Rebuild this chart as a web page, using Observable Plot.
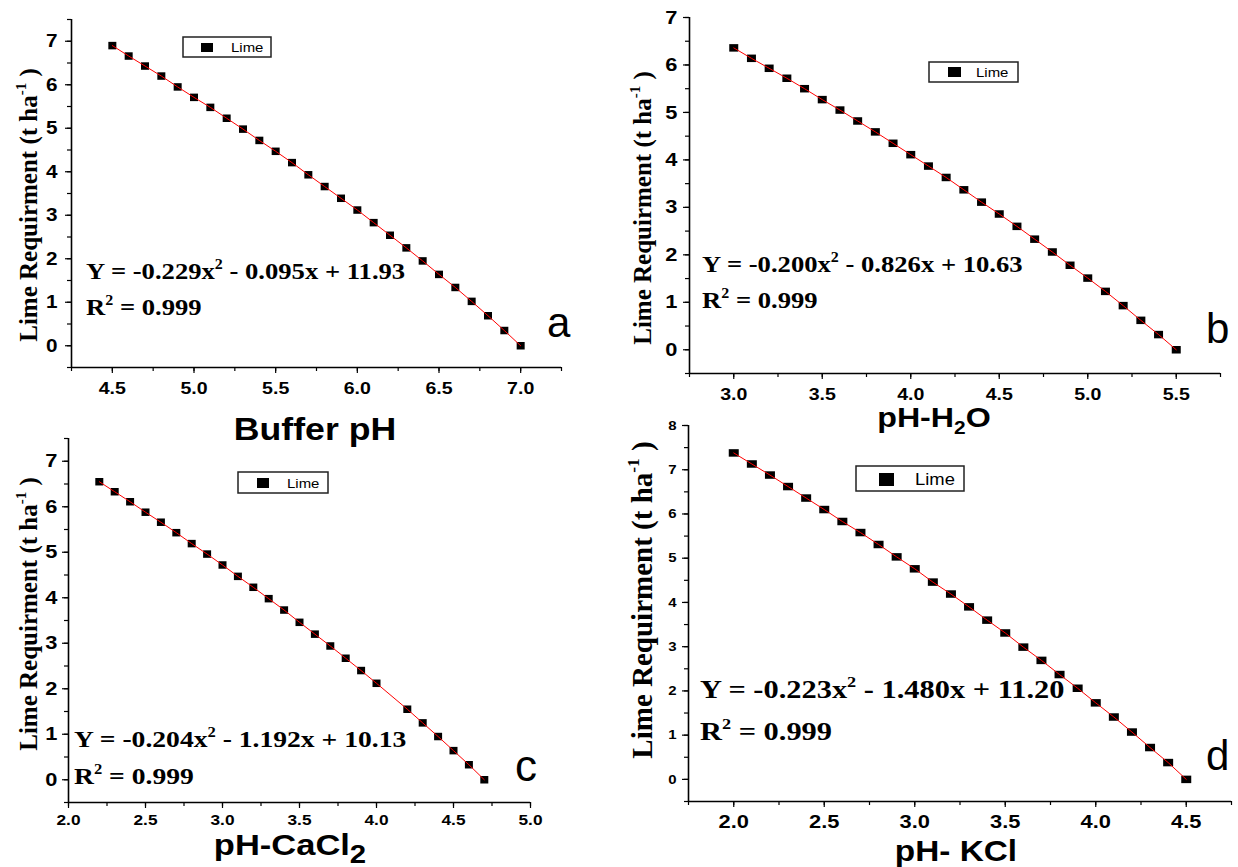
<!DOCTYPE html>
<html>
<head>
<meta charset="utf-8">
<script src="https://cdn.jsdelivr.net/npm/d3@7"></script>
<script src="https://cdn.jsdelivr.net/npm/@observablehq/plot@0.6"></script>
<style>
  body { margin: 0; background: #fff; }
  #root { position: relative; width: 1238px; height: 867px; background: #fff; overflow: hidden; }
  #root > svg { position: absolute; }
  #root g[aria-label$="tick label"] text { font-weight: bold; }
</style>
</head>
<body>
<div id="root"></div>
<script>
// ---------------- data ----------------
const aX = [4.5,4.6,4.7,4.8,4.9,5.0,5.1,5.2,5.3,5.4,5.5,5.6,5.7,5.8,5.9,6.0,6.1,6.2,6.3,6.4,6.5,6.6,6.7,6.8,6.9,7.0];
const aY = [6.90,6.66,6.43,6.20,5.95,5.71,5.48,5.23,4.98,4.72,4.47,4.21,3.93,3.66,3.39,3.12,2.83,2.54,2.25,1.95,1.64,1.34,1.02,0.69,0.35,0.00];
const bX = [3.0,3.1,3.2,3.3,3.4,3.5,3.6,3.7,3.8,3.9,4.0,4.1,4.2,4.3,4.4,4.5,4.6,4.7,4.8,4.9,5.0,5.1,5.2,5.3,5.4,5.5];
const bY = [6.36,6.14,5.93,5.72,5.50,5.27,5.05,4.82,4.59,4.35,4.11,3.87,3.63,3.37,3.11,2.86,2.60,2.33,2.06,1.78,1.51,1.23,0.93,0.62,0.32,0.00];
const cX = [2.2,2.3,2.4,2.5,2.6,2.7,2.8,2.9,3.0,3.1,3.2,3.3,3.4,3.5,3.6,3.7,3.8,3.9,4.0,4.2,4.3,4.4,4.5,4.6,4.7];
const cY = [6.55,6.33,6.11,5.88,5.66,5.43,5.19,4.96,4.72,4.47,4.23,3.98,3.73,3.46,3.20,2.94,2.67,2.40,2.12,1.55,1.25,0.95,0.64,0.33,0.00];
const dX = [2.0,2.1,2.2,2.3,2.4,2.5,2.6,2.7,2.8,2.9,3.0,3.1,3.2,3.3,3.4,3.5,3.6,3.7,3.8,3.9,4.0,4.1,4.2,4.3,4.4,4.5];
const dY = [7.38,7.13,6.88,6.62,6.36,6.10,5.83,5.58,5.31,5.03,4.76,4.46,4.19,3.90,3.60,3.31,2.99,2.69,2.37,2.06,1.73,1.41,1.07,0.72,0.38,0.00];

const aXTicks = [4.5,5.0,5.5,6.0,6.5,7.0];
const bXTicks = [3.0,3.5,4.0,4.5,5.0,5.5];
const cXTicks = [2.0,2.5,3.0,3.5,4.0,4.5,5.0];
const dXTicks = [2.0,2.5,3.0,3.5,4.0,4.5];
const yTicks7 = [0,1,2,3,4,5,6,7];
const yTicks8 = [0,1,2,3,4,5,6,7,8];

const xTitles = ["Buffer pH", "pH-H|2|O", "pH-CaCl|2|", "pH- KCl"];
const yTitle = "Lime Requirment (t ha";
const eqMain = [
  ["Y = -0.229x", " - 0.095x + 11.93"],
  ["Y = -0.200x", " - 0.826x + 10.63"],
  ["Y = -0.204x", " - 1.192x + 10.13"],
  ["Y = -0.223x", " - 1.480x + 11.20"]
];
const r2Text = ["0.999", "0.999", "0.999", "0.999"];
const letters = ["a", "b", "c", "d"];
const seriesName = "Lime";

// ---------------- layout ----------------
const layout = [
  {xs:aX, ys:aY, xTicks:aXTicks, yTicks:yTicks7, left:0, top:0, w:600, h:430, mL:71, mR:39, mT:19, mB:63,
   xDom:[4.25,7.25], yDom:[-0.5,7.5], xFont:17, yFont:18, xPad:8, yPad:8, sq:[8,7.5]},
  {xs:bX, ys:bY, xTicks:bXTicks, yTicks:yTicks7, left:600, top:0, w:638, h:430, mL:89, mR:18, mT:17, mB:57,
   xDom:[2.75,5.75], yDom:[-0.5,7], xFont:17, yFont:19, xPad:8, yPad:6, sq:[9,7.5]},
  {xs:cX, ys:cY, xTicks:cXTicks, yTicks:yTicks7, left:0, top:430, w:600, h:437, mL:68, mR:70, mT:8, mB:65,
   xDom:[2,5], yDom:[-0.5,7.5], xFont:15, yFont:19, xPad:6, yPad:5, sq:[8,7.5]},
  {xs:dX, ys:dY, xTicks:dXTicks, yTicks:yTicks8, left:600, top:420, w:638, h:447, mL:88, mR:7, mT:5, mB:66,
   xDom:[1.75,4.75], yDom:[-0.5,8], xFont:19, yFont:13, xPad:7, yPad:6, sq:[10,7.5]}
];

const STRETCH = 1.15;
const root = document.getElementById("root");

function rectSym(w, h) {
  return { draw(ctx) { ctx.rect(-w / 2, -h / 2, w, h); } };
}

layout.forEach((p) => {
  const data = p.xs.map((x, i) => ({x, y: p.ys[i]}));
  const minorX = d3.range(p.xDom[0], p.xDom[1] + 1e-6, 0.25);
  const minorY = d3.range(p.yDom[0], p.yDom[1] + 1e-6, 0.5);
  const chart = Plot.plot({
    width: p.w, height: p.h,
    marginLeft: p.mL, marginRight: p.mR, marginTop: p.mT, marginBottom: p.mB,
    x: {domain: p.xDom, label: null},
    y: {domain: p.yDom, label: null},
    style: {background: "transparent", overflow: "visible", fontFamily: "'Liberation Sans', Arial, sans-serif", fontWeight: "bold", color: "#000"},
    marks: [
      Plot.axisX({ticks: minorX, tickSize: 4, tickFormat: () => "", label: null, strokeWidth: 1.2}),
      Plot.axisY({ticks: minorY, tickSize: 4, tickFormat: () => "", label: null, strokeWidth: 1.2}),
      Plot.axisX({ticks: p.xTicks, tickSize: 6, tickPadding: p.xPad, tickFormat: d3.format(".1f"), fontSize: p.xFont, fontWeight: "bold", label: null, strokeWidth: 1.2}),
      Plot.axisY({ticks: p.yTicks, tickSize: 6, tickPadding: p.yPad, tickFormat: d3.format("d"), fontSize: p.yFont, fontWeight: "bold", label: null, strokeWidth: 1.2}),
      Plot.ruleX([p.xDom[0]], {stroke: "#000", strokeWidth: 1.6}),
      Plot.ruleY([p.yDom[0]], {stroke: "#000", strokeWidth: 1.6}),
      Plot.dot(data, {x: "x", y: "y", symbol: rectSym(p.sq[0], p.sq[1]), fill: "#000", r: 4}),
      Plot.line(data, {x: "x", y: "y", stroke: "#ff0000", strokeWidth: 1})
    ]
  });
  chart.style.left = p.left + "px";
  chart.style.top = p.top + "px";
  root.appendChild(chart);
  chart.querySelectorAll('g[aria-label="x-axis tick label"] text, g[aria-label="y-axis tick label"] text').forEach((t) => {
    if (!t.textContent) return;
    t.setAttribute("font-weight", "bold");
    const len = t.getComputedTextLength();
    t.setAttribute("textLength", (len * STRETCH).toFixed(2));
    t.setAttribute("lengthAdjust", "spacingAndGlyphs");
  });
});

// ---------------- annotations ----------------
const ov = d3.select(root).append("svg")
  .attr("width", 1238).attr("height", 867)
  .style("left", "0px").style("top", "0px").style("pointer-events", "none");

const serif = "'Liberation Serif', 'Times New Roman', serif";
const sans = "'Liberation Sans', Arial, sans-serif";

// equation positions
const eqPos = [
  {x: 86, b1: 279, b2: 315, fs: 24, s: 1.11},
  {x: 702, b1: 272, b2: 308, fs: 24, s: 1.11},
  {x: 74, b1: 747, b2: 784, fs: 24, s: 1.15},
  {x: 700, b1: 698, b2: 740, fs: 26, s: 1.17}
];
eqPos.forEach((e, i) => {
  const t = ov.append("text")
    .attr("transform", `translate(${e.x},${e.b1}) scale(${e.s},1)`)
    .attr("font-family", serif).attr("font-weight", "bold").attr("font-size", e.fs).attr("fill", "#000");
  t.append("tspan").text(eqMain[i][0]);
  t.append("tspan").attr("font-size", e.fs * 0.6).attr("dy", -e.fs * 0.42).text("2");
  t.append("tspan").attr("dy", e.fs * 0.42).text(eqMain[i][1]);
  const r = ov.append("text")
    .attr("transform", `translate(${e.x},${e.b2}) scale(${e.s},1)`)
    .attr("font-family", serif).attr("font-weight", "bold").attr("font-size", e.fs).attr("fill", "#000");
  r.append("tspan").text("R");
  r.append("tspan").attr("font-size", e.fs * 0.6).attr("dy", -e.fs * 0.42).text("2");
  r.append("tspan").attr("dy", e.fs * 0.42).text(" = " + r2Text[i]);
});

// panel letters
const letterPos = [
  {x: 547, y: 337, fs: 42},
  {x: 1206, y: 343, fs: 42},
  {x: 515, y: 781, fs: 44},
  {x: 1206, y: 770, fs: 42}
];
letterPos.forEach((l, i) => {
  ov.append("text").attr("x", l.x).attr("y", l.y)
    .attr("font-family", sans).attr("font-size", l.fs).attr("fill", "#000").text(letters[i]);
});

// legends
const legPos = [
  {x1: 183, y1: 37, x2: 271, y2: 57, sx: 201, sy: 43, sw: 12, sh: 9, tx: 231, ty: 52, fs: 13},
  {x1: 929, y1: 62, x2: 1018, y2: 82, sx: 948, sy: 67, sw: 13, sh: 10, tx: 976, ty: 77, fs: 13},
  {x1: 238, y1: 472, x2: 328, y2: 493, sx: 257, sy: 478, sw: 12, sh: 10, tx: 287, ty: 488, fs: 13},
  {x1: 856, y1: 466, x2: 964, y2: 491, sx: 879, sy: 473, sw: 15, sh: 13, tx: 915, ty: 485, fs: 16}
];
legPos.forEach((l) => {
  ov.append("rect").attr("x", l.x1).attr("y", l.y1).attr("width", l.x2 - l.x1).attr("height", l.y2 - l.y1)
    .attr("fill", "#fff").attr("stroke", "#222").attr("stroke-width", 1.5);
  ov.append("rect").attr("x", l.sx).attr("y", l.sy).attr("width", l.sw).attr("height", l.sh).attr("fill", "#000");
  ov.append("text").attr("transform", `translate(${l.tx},${l.ty}) scale(${STRETCH},1)`)
    .attr("font-family", sans).attr("font-size", l.fs).attr("fill", "#000").text(seriesName);
});

// x-axis titles (center x, baseline)
const xtPos = [
  {cx: 315, b: 440, fs: 31, sub: 0.7},
  {cx: 934, b: 427, fs: 28, sub: 0.65},
  {cx: 290, b: 855, fs: 30, sub: 0.85},
  {cx: 956, b: 861, fs: 29, sub: 0.7}
];
xtPos.forEach((p, i) => {
  const parts = xTitles[i].split("|");
  const t = ov.append("text")
    .attr("transform", `translate(${p.cx},${p.b}) scale(${STRETCH},1)`)
    .attr("text-anchor", "middle")
    .attr("font-family", sans).attr("font-weight", "bold").attr("font-size", p.fs).attr("fill", "#000");
  t.append("tspan").text(parts[0]);
  if (parts.length > 1) {
    t.append("tspan").attr("font-size", p.fs * p.sub).attr("dy", p.fs * 0.25).text(parts[1]);
    if (parts[2]) t.append("tspan").attr("dy", -p.fs * 0.25).text(parts[2]);
  }
});

// y-axis titles (rotated)
const ytPos = [
  {bx: 37, cy: 205, fs: 25},
  {bx: 651, cy: 208, fs: 25},
  {bx: 37, cy: 614, fs: 25},
  {bx: 652, cy: 600, fs: 29}
];
ytPos.forEach((p) => {
  const t = ov.append("text")
    .attr("transform", `translate(${p.bx},${p.cy}) rotate(-90)`)
    .attr("text-anchor", "middle")
    .attr("font-family", serif).attr("font-weight", "bold").attr("font-size", p.fs).attr("fill", "#000");
  t.append("tspan").text(yTitle);
  t.append("tspan").attr("font-size", p.fs * 0.6).attr("dy", -p.fs * 0.45).text("-1");
  t.append("tspan").attr("dy", p.fs * 0.45).text(" )");
});
</script>
</body>
</html>
